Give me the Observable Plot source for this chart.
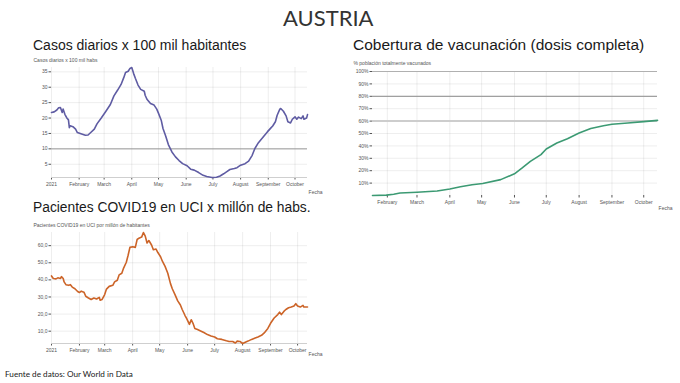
<!DOCTYPE html>
<html>
<head>
<meta charset="utf-8">
<script src="https://cdn.jsdelivr.net/npm/d3@7"></script>
<script src="https://cdn.jsdelivr.net/npm/@observablehq/plot@0.6"></script>
<style>
html,body{margin:0;padding:0;background:#fff;}
#page{position:relative;width:680px;height:383px;overflow:hidden;background:#fff;}
.txt{position:absolute;white-space:nowrap;line-height:1;color:#1a1a1a;}
#country{top:7px;left:283px;font-family:Lato,sans-serif;font-size:22px;color:#333;}
.ctitle{font-family:"Liberation Sans",Arial,sans-serif;}
#t1{left:33px;top:38px;font-size:14px;}
#t2{left:353px;top:37px;font-size:15.5px;}
#t3{left:33px;top:201px;font-size:13.8px;}
#src{left:5px;top:370px;font-family:Lato,sans-serif;font-size:8.2px;}
.chart{position:absolute;}
#c1{left:30px;top:55px;}
#c2{left:350px;top:58px;}
#c3{left:30px;top:220px;}
</style>
</head>
<body>
<div id="page">
  <div class="txt" id="country">AUSTRIA</div>
  <div class="txt ctitle" id="t1">Casos diarios x 100 mil habitantes</div>
  <div class="txt ctitle" id="t2">Cobertura de vacunación (dosis completa)</div>
  <div class="txt ctitle" id="t3">Pacientes COVID19 en UCI x millón de habs.</div>
  <div class="chart" id="c1"></div>
  <div class="chart" id="c2"></div>
  <div class="chart" id="c3"></div>
  <div class="txt" id="src">Fuente de datos: Our World in Data</div>
</div>
<script>
// ---- tick labels / categories ----
const monthLabels = ["2021","February","March","April","May","June","July","August","September","October"];
const casesTicks = [5,10,15,20,25,30,35];
const vacTicks = [10,20,30,40,50,60,70,80,90,100];
const icuTicks = [10,20,30,40,50,60];
const casesRefLines = [10];
const vacRefLines = [60,80,100];

// ---- data: day of 2021 (0 = 1 January) and value ----
const casesDay = [0,3,6,8,10,12,13,15,17,19,20,21,24,27,29,33,38,41,44,48,51,56,61,66,70,74,78,81,83,86,88,90,92,94,97,100,104,105,107,111,115,118,120,123,125,128,131,135,139,143,147,152,156,160,165,170,174,180,185,189,193,197,200,205,208,212,217,221,225,228,232,238,242,246,248,251,253,256,257,260,263,265,268,270,273,275,277,280,282,283,286,287];
const casesVal = [21.8,22.0,22.6,23.3,23.4,21.8,22.9,21.2,20.1,19.4,16.9,17.5,17.2,16.4,15.3,14.9,14.4,14.5,15.3,16.4,18.1,20.1,22.2,24.4,27.2,29.0,30.9,33.1,34.8,35.2,36.1,36.4,34.5,32.9,30.7,29.3,28.7,27.4,26.1,24.7,24.2,22.9,21.5,19.3,16.6,14.2,11.4,9.0,7.4,6.2,5.2,4.5,3.4,3.1,2.3,1.4,1.0,0.7,0.8,1.2,1.9,2.7,3.3,3.6,3.9,4.7,5.2,6.0,7.9,10.1,12.0,14.1,15.5,16.8,17.4,18.8,20.9,22.9,23.1,22.2,20.7,18.8,18.4,19.6,20.4,19.6,20.3,19.8,20.7,19.6,20.0,21.1];

const vacDay = [17,30,37,43,59,78,90,100,111,121,138,151,158,166,176,181,191,201,212,223,235,243,258,273,286];
const vacVal = [0,0.3,1.0,2.0,2.6,3.6,5.3,7.0,8.7,9.7,12.8,17.5,22.0,27.5,33.0,37.5,42.3,45.8,50.4,54.0,56.3,57.4,58.5,59.6,60.6];

const icuDay = [0,2,5,7,10,11,13,14,16,19,21,23,26,29,31,33,36,38,41,44,47,50,53,54,56,59,61,64,68,70,73,75,78,80,83,85,87,90,93,95,97,100,102,104,106,108,111,113,116,118,121,123,126,129,132,134,137,140,143,145,148,150,153,155,157,159,162,166,169,173,177,181,184,189,194,197,201,204,206,209,212,215,218,222,226,229,233,236,240,243,247,251,253,255,258,260,263,266,269,271,273,276,279,280,284];
const icuVal = [42.3,40.8,40.6,41.2,40.8,41.9,40.8,38.8,37.2,36.8,37.2,35.8,34.8,33.2,32.6,33.4,32.8,30.4,29.4,28.5,29.4,28.8,29.8,28.1,28.5,31.4,34.6,36.2,36.8,38.8,39.8,42.9,43.9,46.9,50.3,54.4,59.0,59.4,59.0,63.6,64.4,65.0,67.7,65.6,61.6,63.0,60.4,57.6,58.0,56.0,53.5,50.9,47.9,43.9,37.8,34.8,31.4,27.7,25.3,22.7,19.3,17.3,14.0,16.7,14.6,11.6,11.0,10.0,9.2,8.0,7.2,6.6,5.6,5.2,4.4,4.0,4.0,3.1,4.2,4.0,2.8,3.5,4.2,5.2,6.0,6.6,7.6,9.0,11.6,14.6,17.7,19.7,21.1,19.7,21.7,22.7,23.7,24.1,24.7,26.1,24.7,24.1,25.1,24.1,24.1];

// ---- helpers ----
const day0 = Date.UTC(2021, 0, 1);
const toDate = d => new Date(day0 + d * 86400000);
const monthStart = m => new Date(Date.UTC(2021, m, 1));
const monthFmt = d => monthLabels[d.getUTCMonth()];

function makeChart(o) {
  const data = o.days.map((d, i) => ({date: toDate(d), value: o.vals[i]}));
  const xTicks = o.months.map(monthStart);
  const marks = [];
  if (o.baseline) marks.push(Plot.ruleY([d3.min(o.vals)], {stroke: "#cfcfcf", strokeWidth: 1}));
  if (o.rules) marks.push(...o.rules);
  marks.push(Plot.line(data, {x: "date", y: "value", stroke: o.color, strokeWidth: 1.6}));
  return Plot.plot({
    width: o.width, height: o.height,
    marginTop: o.mt, marginRight: o.mr, marginBottom: o.mb, marginLeft: o.ml,
    style: {fontSize: "5px", fontFamily: "'Liberation Sans', Arial, sans-serif", color: "#555", background: "transparent", overflow: "visible"},
    x: {type: "utc", grid: true, ticks: xTicks, tickFormat: monthFmt, tickSize: 2.5, tickPadding: 2,
        label: "Fecha", labelAnchor: "right", labelArrow: "none", labelOffset: o.labelOffset},
    y: {grid: true, domain: o.yDomain, ticks: o.yTicks, tickFormat: o.yFmt, tickSize: 2.5, tickPadding: 1.5,
        label: o.yLabel, labelAnchor: "top", labelArrow: "none"},
    marks
  });
}

document.getElementById("c1").append(makeChart({
  days: casesDay, vals: casesVal, color: "#5f5ca3",
  width: 295, height: 145, mt: 12, mr: 18, mb: 23, ml: 21,
  yTicks: casesTicks, yFmt: d => String(d), yLabel: "Casos diarios x 100 mil habs",
  months: [0,1,2,3,4,5,6,7,8,9], baseline: true, labelOffset: 16,
  rules: [Plot.ruleY(casesRefLines, {stroke: "#9a9a9a", strokeWidth: 1})]
}));

document.getElementById("c2").append(makeChart({
  days: vacDay, vals: vacVal, color: "#3c9a73",
  width: 325, height: 158, mt: 13, mr: 18, mb: 21, ml: 22,
  yTicks: vacTicks, yFmt: d => d + "%", yLabel: "% población totalmente vacunados", yDomain: [0, 100],
  months: [1,2,3,4,5,6,7,8,9], baseline: false, labelOffset: 14,
  rules: [
    Plot.ruleY([vacRefLines[0]], {stroke: "#cdcdcd", strokeWidth: 2}),
    Plot.ruleY([vacRefLines[1]], {stroke: "#a0a0a0", strokeWidth: 1.2}),
    Plot.ruleY([vacRefLines[2]], {stroke: "#b0b0b0", strokeWidth: 1})
  ]
}));

document.getElementById("c3").append(makeChart({
  days: icuDay, vals: icuVal, color: "#cc6428",
  width: 295, height: 140, mt: 12, mr: 18, mb: 17, ml: 21,
  yTicks: icuTicks, yFmt: d => d.toFixed(1).replace(".", ","), yLabel: "Pacientes COVID19 en UCI por millón de habitantes",
  months: [0,1,2,3,4,5,6,7,8,9], baseline: true, labelOffset: 12
}));
</script>
</body>
</html>
